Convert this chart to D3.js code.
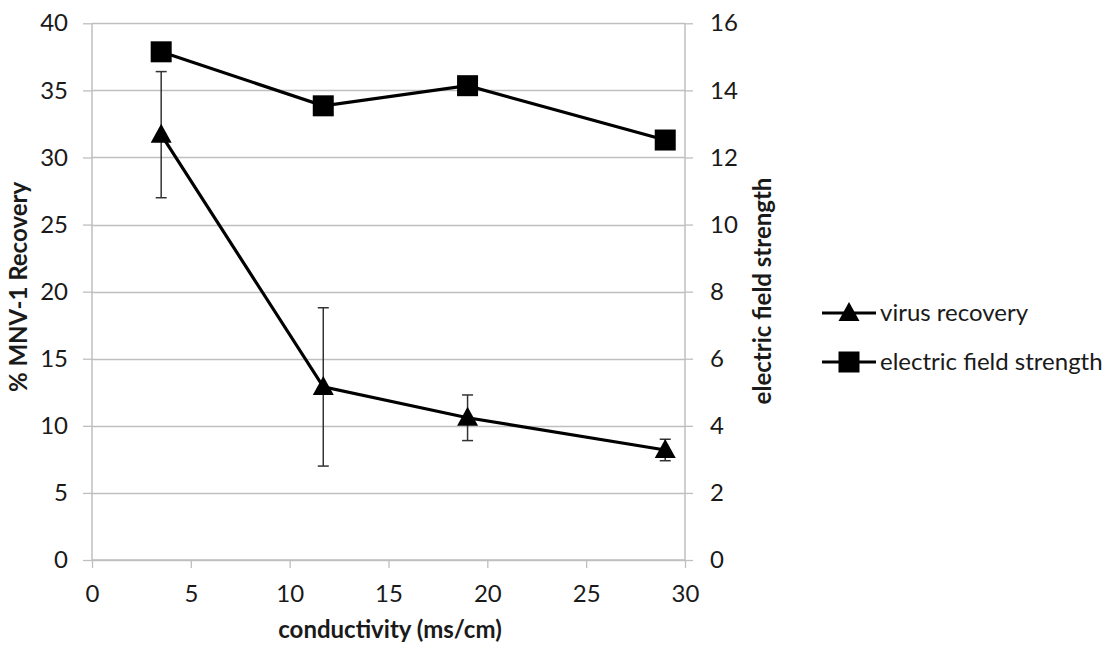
<!DOCTYPE html>
<html>
<head>
<meta charset="utf-8">
<script src="https://cdn.jsdelivr.net/npm/d3@7"></script>
<style>
  html, body { margin: 0; padding: 0; background: #fff; }
  svg { display: block; }
  text { font-family: Lato, "Open Sans", sans-serif; fill: #1a1a1a; }
</style>
</head>
<body>
<svg id="chart" width="1109" height="646"></svg>
<script>
// ---- data ----
const conductivity = [3.5, 11.7, 19.0, 29.0];
const virusRecovery = [31.7, 12.9, 10.6, 8.2];
const virusError = [4.7, 5.9, 1.7, 0.8];
const fieldStrength = [15.15, 13.54, 14.14, 12.52];
const xTicks = [0, 5, 10, 15, 20, 25, 30];
const leftTicks = [0, 5, 10, 15, 20, 25, 30, 35, 40];
const rightTicks = [0, 2, 4, 6, 8, 10, 12, 14, 16];
const seriesNames = ["virus recovery", "electric field strength"];

// ---- layout ----
const plotL = 92, plotR = 685, plotT = 23.3, plotB = 560;
const fontSize = "24px";
const svg = d3.select("#chart");

const x = d3.scaleLinear().domain([0, 30]).range([plotL, plotR]);
const yL = d3.scaleLinear().domain([0, 40]).range([plotB, plotT]);
const yR = d3.scaleLinear().domain([0, 16]).range([plotB, plotT]);

const gridColor = "#bfbfbf";

// gridlines
svg.append("g").selectAll("line").data(leftTicks).join("line")
  .attr("x1", plotL).attr("x2", plotR)
  .attr("y1", d => Math.round(yL(d)) + 0.5).attr("y2", d => Math.round(yL(d)) + 0.5)
  .attr("stroke", gridColor).attr("stroke-width", 1.3);

// left axis
const gL = svg.append("g").attr("transform", `translate(${plotL},0)`)
  .call(d3.axisLeft(yL).tickValues(leftTicks).tickSize(9).tickPadding(15));
// right axis
const gR = svg.append("g").attr("transform", `translate(${plotR},0)`)
  .call(d3.axisRight(yR).tickValues(rightTicks).tickSize(8).tickPadding(17));
// bottom axis
const gB = svg.append("g").attr("transform", `translate(0,${plotB})`)
  .call(d3.axisBottom(x).tickValues(xTicks).tickSize(8).tickPadding(17));

[gL, gR, gB].forEach(g => {
  g.select(".domain").attr("stroke", gridColor).attr("stroke-width", 1.5);
  g.selectAll(".tick line").attr("stroke", gridColor).attr("stroke-width", 1.3);
  g.selectAll(".tick text").style("font-size", fontSize).style("font-family", "Lato, sans-serif").attr("fill", "#1a1a1a");
});
gL.select(".domain").attr("d", `M0,${plotB}V${plotT}`);
gR.select(".domain").attr("d", `M0,${plotB}V${plotT}`);
gB.select(".domain").attr("d", `M${plotL},0H${plotR}`);

// error bars
const eb = svg.append("g").attr("stroke", "#333").attr("stroke-width", 1.5);
conductivity.forEach((c, i) => {
  const cx = x(c), y1 = yL(virusRecovery[i] + virusError[i]), y2 = yL(virusRecovery[i] - virusError[i]);
  eb.append("line").attr("x1", cx).attr("x2", cx).attr("y1", y1).attr("y2", y2);
  eb.append("line").attr("x1", cx - 5.5).attr("x2", cx + 5.5).attr("y1", y1).attr("y2", y1);
  eb.append("line").attr("x1", cx - 5.5).attr("x2", cx + 5.5).attr("y1", y2).attr("y2", y2);
});

// lines
const virusData = conductivity.map((c, i) => [c, virusRecovery[i]]);
const fieldData = conductivity.map((c, i) => [c, fieldStrength[i]]);
svg.append("path").datum(virusData)
  .attr("d", d3.line().x(d => x(d[0])).y(d => yL(d[1])))
  .attr("fill", "none").attr("stroke", "#000").attr("stroke-width", 3.2);
svg.append("path").datum(fieldData)
  .attr("d", d3.line().x(d => x(d[0])).y(d => yR(d[1])))
  .attr("fill", "none").attr("stroke", "#000").attr("stroke-width", 3.2);

// markers
const tri = "M0,-11L10.5,8L-10.5,8Z";
function square(g, cx, cy) {
  g.append("rect").attr("x", cx - 10.5).attr("y", cy - 10.5).attr("width", 21).attr("height", 21).attr("fill", "#000");
}
const mk = svg.append("g");
virusData.forEach(d => mk.append("path").attr("d", tri).attr("transform", `translate(${x(d[0])},${yL(d[1])})`).attr("fill", "#000"));
fieldData.forEach(d => square(mk, x(d[0]), yR(d[1])));

// axis titles
svg.append("text").attr("x", 390).attr("y", 638).attr("text-anchor", "middle")
  .style("font-size", fontSize).style("font-weight", "bold").text("conductivity (ms/cm)");
svg.append("text").attr("transform", "translate(27,287) rotate(-90)").attr("text-anchor", "middle")
  .style("font-size", fontSize).style("font-weight", "bold").text("% MNV-1 Recovery");
svg.append("text").attr("transform", "translate(771,291) rotate(-90)").attr("text-anchor", "middle")
  .style("font-size", fontSize).style("font-weight", "bold").text("electric field strength");

// legend
const lg = svg.append("g");
const legendY = [313, 362];
seriesNames.forEach((name, i) => {
  const yy = legendY[i];
  lg.append("line").attr("x1", 822).attr("x2", 876).attr("y1", yy).attr("y2", yy).attr("stroke", "#000").attr("stroke-width", 3.2);
  if (i === 0) lg.append("path").attr("d", tri).attr("transform", `translate(849,${yy})`).attr("fill", "#000");
  else square(lg, 849, yy);
  lg.append("text").attr("x", 880).attr("y", yy + 8).style("font-size", fontSize).text(name);
});
</script>
</body>
</html>
